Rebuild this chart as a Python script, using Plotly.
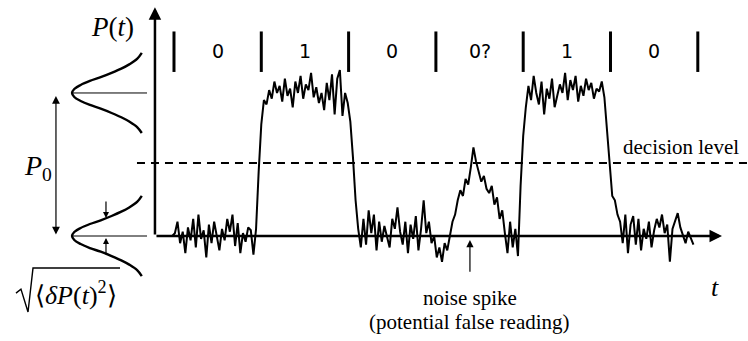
import numpy as np
import plotly.graph_objects as go

# ---------------- data ----------------
# time in bit periods (bit boundaries at t = 0..6), power in units of P0 (low = 0, high = 1)
T0 = -0.02
STEP = 0.03
SEG_LOW1 = [0.00, 0.02, 0.10, -0.05, 0.03, -0.12, 0.06, -0.03, 0.12, -0.08, 0.15, -0.02, 0.04, -0.15, 0.08, -0.05,
            0.10, 0.00, -0.10, 0.05, -0.03, 0.12, 0.03, 0.15, -0.07, 0.09, -0.12, 0.02, -0.04, 0.06, 0.04, -0.13]
SEG_RISE1 = [0.05, 0.45, 0.78, 0.95]
SEG_HIGH1 = [0.92, 1.02, 0.96, 1.08, 1.00, 1.05, 0.94, 1.10, 0.98, 1.03, 0.90, 1.08, 1.00, 1.12, 0.96, 1.06,
             1.02, 1.14, 0.97, 1.04, 0.93, 1.00, 0.88, 1.07, 0.95, 1.13, 0.85, 1.10, 1.16, 0.84, 1.00, 0.93]
SEG_FALL1 = [0.80, 0.55, 0.25, 0.05]
SEG_LOW2 = [-0.08, 0.12, -0.06, 0.18, 0.02, 0.15, -0.10, 0.10, -0.04, 0.07, 0.00, -0.08, 0.12, 0.05, 0.20, 0.03,
            -0.06, 0.10, -0.12, 0.08, -0.02, 0.14, -0.10, 0.05, 0.25, 0.02, 0.10, -0.05, 0.00, -0.15, -0.08, -0.18]
SEG_SPIKE = [-0.05, -0.10, 0.00, 0.10, 0.15, 0.25, 0.32, 0.28, 0.40, 0.36, 0.48, 0.62, 0.52, 0.45, 0.38, 0.42,
             0.33, 0.30, 0.35, 0.22, 0.27, 0.12, 0.18]
SEG_LOW3 = [0.02, -0.12, 0.10, -0.08, 0.05, -0.14]
SEG_RISE2 = [0.35, 0.70, 0.90]
SEG_HIGH2 = [1.05, 0.95, 1.12, 1.00, 0.92, 1.08, 0.85, 1.03, 0.96, 1.10, 0.90, 0.98, 1.06, 1.00, 1.14, 0.95,
             1.09, 1.02, 1.12, 0.94, 1.05, 0.98, 1.10, 1.02, 1.07, 0.96, 1.03, 1.01, 1.08, 0.97]
SEG_FALL2 = [0.75, 0.50, 0.28, 0.25]
SEG_LOW4 = [0.15, 0.10, -0.05, 0.15, -0.12, 0.08, 0.14, -0.06, 0.12, -0.10, 0.05, -0.02, 0.10, -0.08, 0.04, 0.12,
            0.06, 0.15, 0.02, 0.08, -0.18, 0.05, 0.10, 0.16, 0.06, 0.00, -0.05, 0.03, -0.02, -0.06]

BIT_BOUNDS = [0, 1, 2, 3, 4, 5, 6]
BIT_LABELS = ["0", "1", "0", "0?", "1", "0"]
DECISION_LEVEL = 0.51
HIGH_LEVEL = 1.0
LOW_LEVEL = 0.0
SPIKE_T = 3.39

# bell-shaped distribution profile (offset in P, width fraction)
BELL_DY = [-0.28, -0.24, -0.20, -0.17, -0.14, -0.11, -0.084, -0.056, -0.028, 0.0,
           0.028, 0.056, 0.084, 0.11, 0.14, 0.17, 0.20, 0.24, 0.28]
BELL_W = [0.044, 0.105, 0.216, 0.325, 0.458, 0.607, 0.755, 0.882, 0.969, 1.0,
          0.969, 0.882, 0.755, 0.607, 0.458, 0.325, 0.216, 0.105, 0.044]

# ---------------- build ----------------
P = (SEG_LOW1 + SEG_RISE1 + SEG_HIGH1 + SEG_FALL1 + SEG_LOW2 + SEG_SPIKE + SEG_LOW3 +
     SEG_RISE2 + SEG_HIGH2 + SEG_FALL2 + SEG_LOW4)
t = T0 + STEP * np.arange(len(P))

XR = [-1.993, 6.575]
YR = [-0.734, 1.650]
AX_T = -0.218          # position of the vertical axis
BELL_BASE = -0.332     # right end of bell tails
BELL_DEPTH = 0.836

fig = go.Figure()
fig.add_trace(go.Scatter(x=t, y=P, mode="lines", line=dict(color="black", width=2),
                         hoverinfo="skip", showlegend=False))

# bells
for c in (HIGH_LEVEL, LOW_LEVEL):
    bx = [BELL_BASE - BELL_DEPTH * w for w in BELL_W]
    by = [c + d for d in BELL_DY]
    fig.add_trace(go.Scatter(x=bx, y=by, mode="lines", line=dict(color="black", width=2.4, shape="spline"),
                             hoverinfo="skip", showlegend=False))
    fig.add_shape(type="line", x0=BELL_BASE - BELL_DEPTH, x1=-0.309, y0=c, y1=c,
                  line=dict(color="black", width=1))

# decision level
fig.add_shape(type="line", x0=-0.424, x1=XR[1], y0=DECISION_LEVEL, y1=DECISION_LEVEL,
              line=dict(color="black", width=2, dash="8px,6px"))

# bit separators
for b in BIT_BOUNDS:
    fig.add_shape(type="line", x0=b, x1=b, y0=1.147, y1=1.43, line=dict(color="black", width=3))

ann = []
def arrow(x, y, ax, ay, w=1.2, head=2, size=1.0, side="end"):
    ann.append(dict(x=x, y=y, ax=ax, ay=ay, xref="x", yref="y", axref="x", ayref="y", text="",
                    showarrow=True, arrowhead=head, startarrowhead=head, arrowsize=size,
                    startarrowsize=size, arrowwidth=w, arrowcolor="black", arrowside=side))

# axes with arrows
arrow(AX_T, 1.60, AX_T, LOW_LEVEL, w=2.5, head=2, size=1.0)
arrow(6.277, LOW_LEVEL, AX_T, LOW_LEVEL, w=2.5, head=2, size=1.0)
# P0 double arrow
arrow(-1.352, LOW_LEVEL + 0.01, -1.352, HIGH_LEVEL - 0.01, w=1.2, head=2, size=1.3, side="end+start")
# width arrows
arrow(-0.779, 0.126, -0.779, 0.252, w=1.2, head=2, size=1.0)
arrow(-0.779, -0.014, -0.779, -0.14, w=1.2, head=2, size=1.0)
# noise spike arrow
arrow(SPIKE_T, -0.028, SPIKE_T, -0.26, w=1.2, head=2, size=1.2)

serif = "Liberation Serif, Times New Roman, Times, serif"
sans = "DejaVu Sans, Liberation Sans, sans-serif"
for b, lab in zip(BIT_BOUNDS[:-1], BIT_LABELS):
    ann.append(dict(x=b + 0.5, y=1.29, xref="x", yref="y", text=lab, showarrow=False,
                    font=dict(family=sans, size=19, color="black")))

def txt(x, y, s, size, fam=serif, xanchor="center"):
    ann.append(dict(x=x, y=y, xref="x", yref="y", text=s, showarrow=False, xanchor=xanchor,
                    font=dict(family=fam, size=size, color="black")))

txt(-0.699, 1.46, "<i>P</i>(<i>t</i>)", 27)
txt(-1.558, 0.48, "<i>P</i><sub>0</sub>", 28)
txt(6.49, 0.62, "decision level", 21, xanchor="right")
txt(SPIKE_T, -0.43, "noise spike", 21)
txt(SPIKE_T, -0.60, "(potential false reading)", 21)
txt(6.197, -0.357, "<i>t</i>", 26)
txt(-1.117, -0.40, "⟨<i>δP</i>(<i>t</i>)<sup>2</sup>⟩", 26)

# radical sign drawn as a path (pixel-read points converted to data coordinates)
RAD_T = [-1.810, -1.753, -1.672, -1.615, -0.618]
RAD_P = [-0.399, -0.371, -0.531, -0.224, -0.224]
fig.add_trace(go.Scatter(x=RAD_T, y=RAD_P, mode="lines", line=dict(color="black", width=1.4),
                         hoverinfo="skip", showlegend=False))

fig.update_layout(
    width=748, height=341, margin=dict(l=0, r=0, t=0, b=0),
    paper_bgcolor="white", plot_bgcolor="white",
    xaxis=dict(range=XR, visible=False, fixedrange=True),
    yaxis=dict(range=YR, visible=False, fixedrange=True),
    annotations=ann, showlegend=False,
)
fig.write_html("out.html", config={"displayModeBar": False})
